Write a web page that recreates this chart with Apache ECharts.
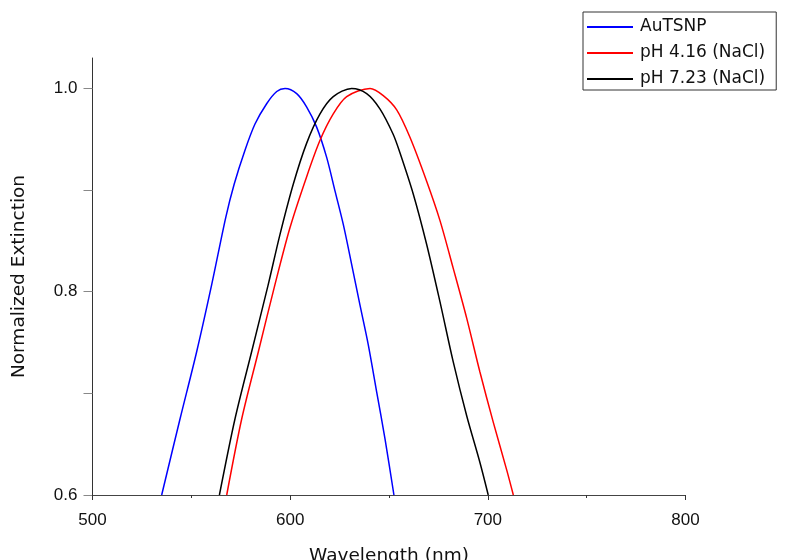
<!DOCTYPE html>
<html>
<head>
<meta charset="utf-8">
<script src="https://cdn.jsdelivr.net/npm/echarts@6/dist/echarts.min.js"></script>
<style>
  html, body { margin: 0; padding: 0; background: #fff; }
  #chart { width: 787px; height: 560px; }
</style>
</head>
<body>
<div id="chart"></div>
<script>
// Normalized extinction spectra (wavelength in nm)
const auWl  = [535.0, 544.3, 552.7, 560.3, 567.4, 571.7, 577.1, 582.2, 588.1, 593.2, 597.4, 603.3, 608.3, 613.4, 618.5, 622.7, 626.9, 631.1, 635.3, 639.5, 643.8, 648.0, 652.5];
const auExt = [0.600, 0.675, 0.741, 0.807, 0.873, 0.906, 0.939, 0.965, 0.985, 0.997, 1.000, 0.995, 0.982, 0.962, 0.932, 0.899, 0.866, 0.827, 0.787, 0.748, 0.701, 0.655, 0.600];

const ph416Wl  = [567.9, 575.5, 583.9, 592.3, 599.9, 608.3, 615.1, 621.8, 628.6, 640.4, 647.1, 653.9, 660.6, 669.0, 675.8, 682.5, 689.3, 696.0, 702.7, 709.5, 712.9];
const ph416Ext = [0.600, 0.675, 0.741, 0.807, 0.863, 0.913, 0.949, 0.975, 0.992, 1.000, 0.993, 0.979, 0.952, 0.909, 0.870, 0.823, 0.774, 0.721, 0.672, 0.625, 0.600];

const ph723Wl  = [564.2, 572.1, 580.5, 588.9, 594.8, 601.6, 608.3, 615.1, 621.8, 631.1, 638.7, 645.4, 652.1, 655.5, 662.3, 669.0, 675.8, 682.5, 689.3, 696.0, 700.2];
const ph723Ext = [0.600, 0.675, 0.741, 0.807, 0.856, 0.906, 0.946, 0.975, 0.992, 1.000, 0.995, 0.980, 0.955, 0.937, 0.896, 0.847, 0.790, 0.731, 0.678, 0.632, 0.600];

const seriesNames = ['AuTSNP', 'pH 4.16 (NaCl)', 'pH 7.23 (NaCl)'];
const seriesColors = ['#0000ff', '#ff0000', '#000000'];
const yLabelValues = [0.6, 0.8, 1.0];
const yTickValues = [0.6, 0.7, 0.8, 0.9, 1.0];

const zip = (xs, ys) => xs.map((x, i) => [x, ys[i]]);
const curves = [zip(auWl, auExt), zip(ph416Wl, ph416Ext), zip(ph723Wl, ph723Ext)];

const numFont = '"Liberation Sans", Arial, sans-serif';
const textFont = '"DejaVu Sans", sans-serif';
const chart = echarts.init(document.getElementById('chart'), null, { renderer: 'canvas' });

chart.setOption({
  animation: false,
  backgroundColor: '#ffffff',
  grid: {
    left: 92.5, right: 101.5, top: 58, bottom: 65,
    containLabel: false,
    outerBoundsMode: 'none'
  },
  legend: {
    orient: 'vertical',
    left: 583,
    top: 12,
    padding: [6, 11, 2, 3],
    itemWidth: 46,
    itemHeight: 14,
    itemGap: 8,
    borderColor: '#333',
    borderWidth: 1,
    borderRadius: 0,
    backgroundColor: '#fff',
    itemStyle: { opacity: 0 },
    textStyle: { fontFamily: textFont, fontSize: 17, lineHeight: 18, color: '#111', padding: [0, 0, 0, 2] },
    data: seriesNames
  },
  xAxis: {
    type: 'value',
    min: 500, max: 800, interval: 100,
    name: 'Wavelength (nm)',
    nameLocation: 'middle',
    nameGap: 52,
    nameTextStyle: { fontFamily: textFont, fontSize: 18.5, color: '#111' },
    axisLine: { lineStyle: { color: '#444', width: 1 } },
    axisTick: { inside: false, length: 5, lineStyle: { color: '#333' } },
    minorTick: { show: true, splitNumber: 2, length: 3, lineStyle: { color: '#333' } },
    axisLabel: { margin: 17, fontFamily: numFont, fontSize: 17, color: '#111' },
    splitLine: { show: false }
  },
  yAxis: {
    type: 'value',
    min: 0.6, max: 1.03,
    name: 'Normalized Extinction',
    nameLocation: 'middle',
    nameGap: 64,
    nameTextStyle: { fontFamily: textFont, fontSize: 18.5, color: '#111' },
    axisLine: { show: true, lineStyle: { color: '#333', width: 1 } },
    axisTick: { show: true, inside: false, length: 9, customValues: yTickValues, lineStyle: { color: '#888' } },
    axisLabel: {
      margin: 15, fontFamily: numFont, fontSize: 17, color: '#111',
      customValues: yLabelValues,
      formatter: v => v.toFixed(1)
    },
    splitLine: { show: false }
  },
  series: curves.map((data, i) => ({
    name: seriesNames[i],
    type: 'line',
    data,
    smooth: 0.3,
    symbol: 'none',
    clip: true,
    lineStyle: { color: seriesColors[i], width: 1.5 },
    itemStyle: { color: seriesColors[i] }
  }))
});
</script>
</body>
</html>
